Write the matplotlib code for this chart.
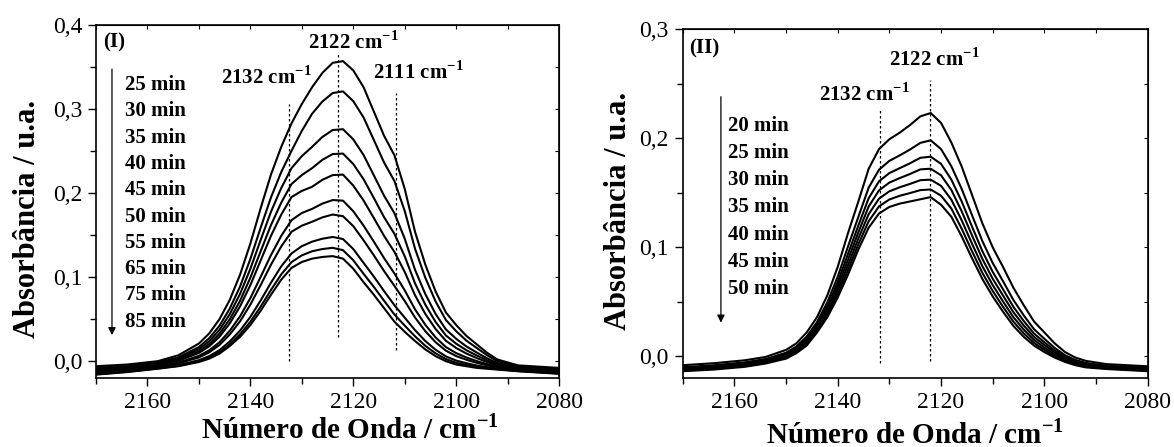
import matplotlib
matplotlib.use('Agg')
import matplotlib.pyplot as plt
from matplotlib.ticker import MultipleLocator, FuncFormatter

plt.rcParams['font.family'] = 'Liberation Serif'
plt.rcParams['mathtext.fontset'] = 'custom'
plt.rcParams['mathtext.rm'] = 'Liberation Serif'
plt.rcParams['mathtext.bf'] = 'Liberation Serif:bold'

# número de onda comum às duas séries (cm-1)
WN = [2170, 2164, 2158, 2154, 2150, 2148, 2146, 2144, 2142, 2140, 2138, 2136,
      2134, 2132, 2130, 2128, 2126, 2124, 2122, 2120, 2118, 2116, 2114, 2112,
      2110, 2108, 2106, 2104, 2102, 2100, 2098, 2096, 2094, 2092, 2088, 2080]

# painel (I)
I_25 = [-0.006, -0.004, 0.000, 0.007, 0.021, 0.033, 0.050, 0.073, 0.103, 0.140, 0.182, 0.222,
        0.255, 0.283, 0.306, 0.326, 0.343, 0.355, 0.357, 0.346, 0.326, 0.297, 0.268, 0.245,
        0.205, 0.154, 0.115, 0.083, 0.058, 0.043, 0.030, 0.020, 0.010, 0.002, -0.005, -0.008]
I_30 = [-0.0079, -0.0057, -0.0017, 0.0045, 0.0168, 0.0273, 0.0422, 0.0626, 0.0889, 0.1216, 0.1588, 0.1948,
        0.225, 0.2503, 0.274, 0.2944, 0.309, 0.319, 0.321, 0.3094, 0.290, 0.2632, 0.2362, 0.2143,
        0.1787, 0.1339, 0.0993, 0.0711, 0.049, 0.0357, 0.0244, 0.0157, 0.0071, 0.0001, -0.0061, -0.0091]
I_35 = [-0.0091, -0.0068, -0.0028, 0.003, 0.0142, 0.0237, 0.0373, 0.056, 0.0801, 0.1099, 0.1442, 0.1777,
        0.206, 0.2297, 0.244, 0.255, 0.2668, 0.275, 0.276, 0.2639, 0.2453, 0.2211, 0.1967, 0.1761,
        0.1458, 0.1088, 0.0799, 0.0562, 0.0378, 0.0266, 0.0175, 0.0103, 0.0034, -0.0022, -0.0074, -0.0104]
I_40 = [-0.0102, -0.0078, -0.0038, 0.0015, 0.0118, 0.0204, 0.0328, 0.0499, 0.0719, 0.0993, 0.1308, 0.1619,
        0.1886, 0.2108, 0.2214, 0.2297, 0.2396, 0.2464, 0.247, 0.2346, 0.2165, 0.1941, 0.1712, 0.1515,
        0.1248, 0.0926, 0.0673, 0.0467, 0.0306, 0.0208, 0.013, 0.0068, 0.001, -0.0037, -0.0083, -0.0113]
I_45 = [-0.0111, -0.0086, -0.0046, 0.0004, 0.0098, 0.0177, 0.0291, 0.045, 0.0653, 0.0905, 0.1198, 0.1491,
        0.1744, 0.1953, 0.2026, 0.2075, 0.2158, 0.2214, 0.222, 0.2089, 0.1912, 0.1703, 0.1489, 0.130,
        0.1062, 0.0785, 0.0563, 0.0383, 0.0243, 0.0157, 0.0091, 0.0037, -0.001, -0.005, -0.0091, -0.0121]
I_50 = [-0.0127, -0.010, -0.006, -0.0017, 0.0063, 0.0129, 0.0225, 0.0362, 0.0534, 0.075, 0.1003, 0.1262,
        0.1491, 0.1678, 0.1763, 0.1812, 0.1875, 0.1917, 0.191, 0.1784, 0.1613, 0.1422, 0.1225, 0.1044,
        0.0843, 0.0617, 0.0433, 0.0283, 0.0168, 0.0096, 0.0044, 0.0001, -0.0035, -0.0065, -0.010, -0.013]
I_55 = [-0.0135, -0.0107, -0.0067, -0.0027, 0.0045, 0.0105, 0.0193, 0.0318, 0.0475, 0.0673, 0.0905, 0.1148,
        0.1365, 0.154, 0.1612, 0.1659, 0.1711, 0.1745, 0.1725, 0.1607, 0.1439, 0.1259, 0.1071, 0.0896,
        0.0716, 0.052, 0.0357, 0.0226, 0.0125, 0.0061, 0.0017, -0.002, -0.0049, -0.0074, -0.0105, -0.0135]
I_65 = [-0.015, -0.0121, -0.0081, -0.0047, 0.0012, 0.006, 0.0131, 0.0235, 0.0364, 0.0527, 0.0722, 0.0933,
        0.1128, 0.1282, 0.1368, 0.1422, 0.1457, 0.1478, 0.1453, 0.1334, 0.117, 0.1006, 0.0833, 0.0666,
        0.0518, 0.0369, 0.024, 0.0136, 0.0057, 0.0007, -0.0024, -0.0052, -0.0071, -0.0088, -0.0113, -0.0143]
I_75 = [-0.0156, -0.0126, -0.0086, -0.0055, -0.0001, 0.0042, 0.0106, 0.0202, 0.032, 0.0469, 0.0649, 0.0847,
        0.1033, 0.1179, 0.1259, 0.1308, 0.1334, 0.1349, 0.1321, 0.1201, 0.104, 0.0884, 0.0718, 0.0555,
        0.0423, 0.0296, 0.0183, 0.0093, 0.0025, -0.002, -0.0045, -0.0068, -0.0082, -0.0095, -0.0117, -0.0147]
I_85 = [-0.016, -0.013, -0.009, -0.006, -0.001, 0.003, 0.009, 0.018, 0.029, 0.043, 0.060, 0.079,
        0.097, 0.111, 0.118, 0.122, 0.124, 0.125, 0.122, 0.110, 0.094, 0.079, 0.063, 0.047,
        0.035, 0.024, 0.014, 0.006, 0.000, -0.004, -0.006, -0.008, -0.009, -0.010, -0.012, -0.015]
TEMPOS_I = ['25 min', '30 min', '35 min', '40 min', '45 min',
            '50 min', '55 min', '65 min', '75 min', '85 min']

# painel (II)
II_20 = [-0.008, -0.0062, -0.0035, -0.0005, 0.006, 0.012, 0.022, 0.036, 0.056, 0.082, 0.113, 0.142,
         0.172, 0.190, 0.199, 0.205, 0.212, 0.220, 0.223, 0.214, 0.196, 0.174, 0.148, 0.122,
         0.100, 0.082, 0.063, 0.047, 0.032, 0.022, 0.012, 0.004, -0.001, -0.004, -0.007, -0.009]
II_25 = [-0.0098, -0.0081, -0.0054, -0.0024, 0.0034, 0.0091, 0.0182, 0.0315, 0.0496, 0.073, 0.1008, 0.1279,
         0.1547, 0.1711, 0.1792, 0.1842, 0.1896, 0.1957, 0.198, 0.190, 0.1742, 0.1535, 0.1294, 0.1057,
         0.0856, 0.0689, 0.0518, 0.0377, 0.025, 0.0162, 0.0078, 0.0011, -0.0032, -0.0059, -0.0084, -0.0104]
II_30 = [-0.0108, -0.0091, -0.0065, -0.0035, 0.002, 0.0075, 0.016, 0.029, 0.046, 0.068, 0.094, 0.120,
         0.145, 0.1605, 0.168, 0.1725, 0.177, 0.182, 0.183, 0.1765, 0.162, 0.142, 0.119, 0.0965,
         0.0775, 0.0615, 0.0455, 0.0325, 0.021, 0.013, 0.0055, -0.0005, -0.0045, -0.007, -0.0093, -0.0113]
II_35 = [-0.0115, -0.0099, -0.0073, -0.0043, 0.0009, 0.0062, 0.0143, 0.027, 0.0432, 0.0641, 0.0887, 0.1138,
         0.1374, 0.1522, 0.1593, 0.1634, 0.1672, 0.1714, 0.172, 0.166, 0.1525, 0.133, 0.1109, 0.0894,
         0.0712, 0.0558, 0.0406, 0.0284, 0.0179, 0.0105, 0.0037, -0.0018, -0.0055, -0.0078, -0.0099, -0.0119]
II_40 = [-0.0122, -0.0107, -0.0081, -0.0051, -0.0002, 0.0051, 0.0128, 0.0252, 0.0406, 0.0604, 0.0837, 0.1081,
         0.1304, 0.1446, 0.1513, 0.155, 0.1581, 0.1615, 0.162, 0.1563, 0.1436, 0.1247, 0.1033, 0.0827,
         0.0654, 0.0504, 0.036, 0.0247, 0.0151, 0.0081, 0.002, -0.0029, -0.0064, -0.0086, -0.0105, -0.0125]
II_45 = [-0.0129, -0.0114, -0.0088, -0.0058, -0.0011, 0.004, 0.0113, 0.0235, 0.0382, 0.0571, 0.0792, 0.1028,
         0.1239, 0.1375, 0.1438, 0.1472, 0.1497, 0.1524, 0.153, 0.1473, 0.1355, 0.117, 0.0964, 0.0766,
         0.060, 0.0455, 0.0319, 0.0212, 0.0124, 0.006, 0.0004, -0.004, -0.0072, -0.0093, -0.011, -0.013]
II_50 = [-0.0135, -0.012, -0.0095, -0.0065, -0.002, 0.003, 0.010, 0.022, 0.036, 0.054, 0.075, 0.098,
         0.118, 0.131, 0.137, 0.140, 0.142, 0.144, 0.146, 0.139, 0.128, 0.110, 0.090, 0.071,
         0.055, 0.041, 0.028, 0.018, 0.010, 0.004, -0.001, -0.005, -0.008, -0.010, -0.0115, -0.0135]
TEMPOS_II = ['20 min', '25 min', '30 min', '35 min', '40 min', '45 min', '50 min']

# bandas marcadas (posição, y inicial, y final)
BANDAS_I = [(2132.4, 0.000, 0.306), (2123.0, 0.029, 0.367), (2111.7, 0.013, 0.319)]
BANDAS_II = [(2131.9, -0.006, 0.228), (2122.1, -0.004, 0.253)]
ROTULOS_I = [('2132', 2136.8, 0.338), ('2122', 2120.0, 0.379), ('2111', 2107.3, 0.344)]
ROTULOS_II = [('2132', 2134.8, 0.240), ('2122', 2121.3, 0.2725)]

BOLD = dict(fontsize=15, fontweight='bold')
virgula = FuncFormatter(lambda v, p: ('%.1f' % v).replace('.', ','))


def painel(ax, curvas, tempos, bandas, rotulos, ymax, tag, tag_y,
           lab_x, lab_y0, lab_dy, seta_x, seta_y):
    for c in curvas:
        ax.plot(WN, c, color='k', lw=1.5)
    for x, y0, y1 in bandas:
        ax.plot([x, x], [y0, y1], color='k', lw=0.9, ls=(0, (2, 2)))
    for txt, x, y in rotulos:
        ax.text(x, y, txt + r' cm$^{\mathbf{-1}}$', ha='center', va='center', **BOLD)
    for i, t in enumerate(tempos):
        ax.text(lab_x, lab_y0 - i * lab_dy, t, ha='left', va='center', **BOLD)
    ax.annotate('', xy=(seta_x, seta_y[1]), xytext=(seta_x, seta_y[0]),
                arrowprops=dict(arrowstyle='-|>', color='k', lw=0.9,
                                mutation_scale=11, shrinkA=0, shrinkB=0))
    ax.text(2168.7, tag_y, tag, ha='left', va='center', **BOLD)

    ax.set_xlim(2170, 2080)
    ax.set_ylim(-0.02, ymax)
    ax.xaxis.set_major_locator(MultipleLocator(20))
    ax.xaxis.set_minor_locator(MultipleLocator(10))
    ax.yaxis.set_major_locator(MultipleLocator(0.1))
    ax.yaxis.set_minor_locator(MultipleLocator(0.05))
    ax.yaxis.set_major_formatter(virgula)
    ax.tick_params(which='major', direction='out', length=6, width=1,
                   labelsize=17, pad=4)
    ax.tick_params(which='minor', direction='out', length=4, width=1)
    for s in ax.spines.values():
        s.set_linewidth(1.2)
    top = ax.secondary_xaxis('top')
    top.xaxis.set_major_locator(MultipleLocator(10))
    top.tick_params(direction='in', length=3, labeltop=False)
    right = ax.secondary_yaxis('right')
    right.yaxis.set_major_locator(MultipleLocator(0.05))
    right.tick_params(direction='in', length=3, labelright=False)

    ax.set_xlabel(r'Número de Onda / cm$^{\mathbf{-1}}$', fontsize=21, fontweight='bold')
    ax.set_ylabel('Absorbância / u.a.', fontsize=22, fontweight='bold')
    ax.yaxis.label.set_va('center')


fig = plt.figure(figsize=(11.74, 4.47), dpi=100)
ax1 = fig.add_axes([0.0818, 0.1544, 0.3944, 0.7897])
ax2 = fig.add_axes([0.5815, 0.1537, 0.3961, 0.7814])

painel(ax1, [I_25, I_30, I_35, I_40, I_45, I_50, I_55, I_65, I_75, I_85],
       TEMPOS_I, BANDAS_I, ROTULOS_I, 0.4, '(I)', 0.3786,
       2164.4, 0.3286, 0.0313, 2166.9, (0.3476, 0.031))
painel(ax2, [II_20, II_25, II_30, II_35, II_40, II_45, II_50],
       TEMPOS_II, BANDAS_II, ROTULOS_II, 0.3, '(II)', 0.2822,
       2161.2, 0.2112, 0.0249, 2162.6, (0.238, 0.031))

ax1.xaxis.set_label_coords(0.549, -0.170)
ax1.xaxis.label.set_va('baseline')
ax1.yaxis.set_label_coords(-0.147, 0.45)
ax2.xaxis.set_label_coords(0.50, -0.185)
ax2.xaxis.label.set_va('baseline')
ax2.yaxis.set_label_coords(-0.1385, 0.48)

fig.savefig('out.png', dpi=100, facecolor='white')
